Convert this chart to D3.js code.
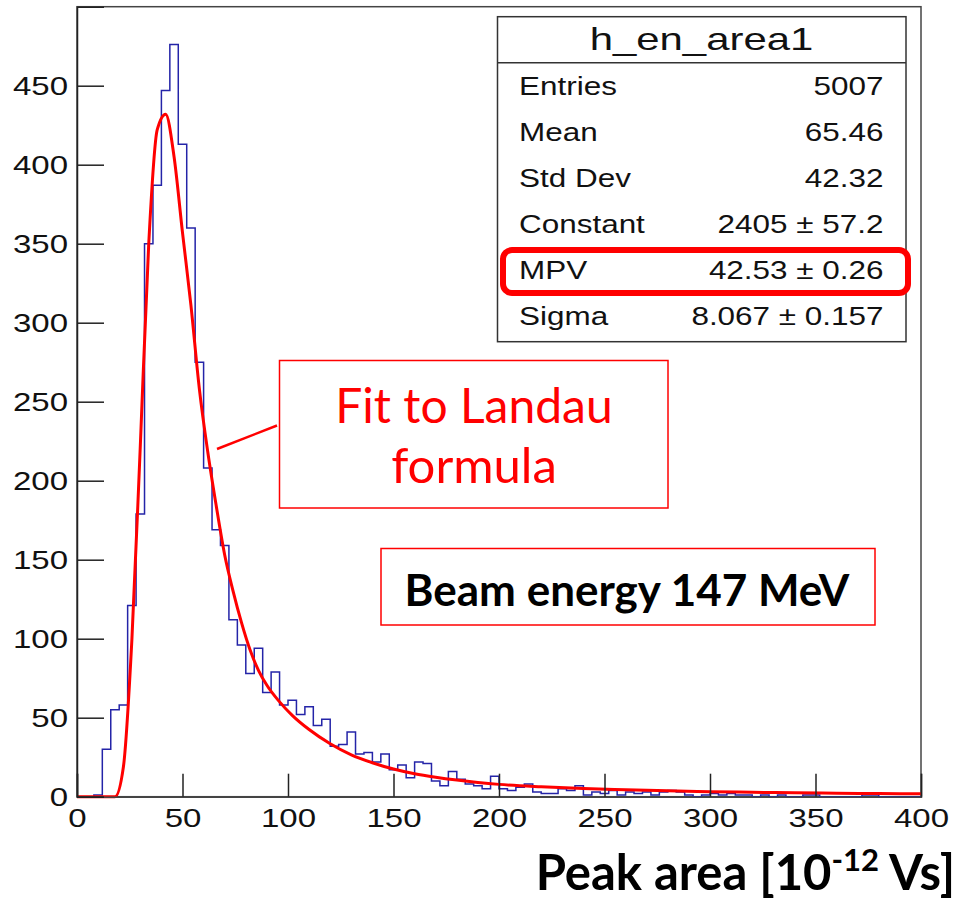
<!DOCTYPE html>
<html>
<head>
<meta charset="utf-8">
<script src="https://cdn.jsdelivr.net/npm/d3@7"></script>
<style>
  body { margin: 0; background: #fff; }
  svg { display: block; }
</style>
</head>
<body>
<svg id="chart" width="960" height="900"></svg>
<script>
// Histogram h_en_area1: 100 bins of width 4 over [0, 400]
const binLow = d3.range(0, 400, 4);
const counts = [
  0, 0, 1, 30, 55, 58, 121, 179, 350, 387,
  447, 476, 413, 360, 275, 208, 169, 159, 112, 96,
  78, 94, 66, 79, 58, 61, 52, 57, 45, 49,
  32, 33, 41, 27, 28, 22, 27, 17, 20, 12,
  22, 21, 10, 7, 16, 11, 8, 7, 5, 13,
  5, 4, 6, 8, 3, 2, 2, 5, 4, 7,
  1, 3, 2, 4, 1, 3, 2, 3, 1, 3,
  4, 3, 1, 0, 1, 2, 1, 2, 1, 1,
  0, 1, 0, 1, 0, 0, 1, 1, 0, 0,
  0, 0, 0, 1, 1, 0, 0, 0, 0, 0
];

// Landau fit curve, sampled
const fitX = [0, 18, 22, 26, 30, 34, 38, 42, 46, 50, 54, 58, 62, 66, 70, 74, 78, 82, 86, 90,
  96, 102, 110, 120, 130, 140, 150, 160, 170, 180, 190, 200, 220, 240, 260, 280, 300, 320, 340, 360, 380, 400];
const fitY = [0, 0, 19, 99, 222, 350, 422, 432, 405, 357, 311, 258, 218, 184, 153, 130, 110, 93, 80, 70.5,
  60, 51.5, 42.5, 33.5, 26.5, 21.5, 17.5, 14.5, 12.3, 10.5, 9, 7.8, 6.3, 5.2, 4.4, 3.7, 3.2, 2.8, 2.5, 2.2, 2.0, 1.8];

const xMajor = d3.range(0, 401, 50);
const xMinor = d3.range(0, 401, 10);
const yMajor = d3.range(0, 451, 50);
const yMinor = d3.range(0, 500, 10);

const statsTitle = "h_en_area1";
const statsLabels = ["Entries", "Mean", "Std Dev", "Constant", "MPV", "Sigma"];
const statsValues = ["5007", "65.46", "42.32", "2405 \u00b1 57.2", "42.53 \u00b1 0.26", "8.067 \u00b1 0.157"];

const fitNote = ["Fit to Landau", "formula"];
const beamNote = "Beam energy 147 MeV";

const svg = d3.select("#chart");
const x = d3.scaleLinear().domain([0, 400]).range([77, 921]);
const y = d3.scaleLinear().domain([0, 500]).range([796.7, 6.7]);

const rootFont = "'Liberation Sans', Arial, Helvetica, sans-serif";
const noteFont = "Lato, 'Open Sans', sans-serif";
const sx = 1.27; // horizontal stretch of the axis labels

// Frame
svg.append("rect")
  .attr("x", x(0)).attr("y", y(500))
  .attr("width", x(400) - x(0)).attr("height", y(0) - y(500))
  .attr("fill", "none").attr("stroke", "#444").attr("stroke-width", 1.5);

// Histogram outline
const stepPts = binLow.map((b, i) => [b, counts[i]]);
stepPts.push([400, counts[counts.length - 1]]);
svg.append("path")
  .attr("d", d3.line().x(d => x(d[0])).y(d => y(d[1])).curve(d3.curveStepAfter)(stepPts))
  .attr("fill", "none").attr("stroke", "#2424a8").attr("stroke-width", 1.5);

// Fit curve
svg.append("path")
  .attr("d", d3.line().x((d, i) => x(fitX[i])).y((d, i) => y(fitY[i])).curve(d3.curveMonotoneX)(fitX))
  .attr("fill", "none").attr("stroke", "#ff0000").attr("stroke-width", 3)
  .attr("stroke-linejoin", "round");

// Axes (ticks point into the frame)
const gx = svg.append("g").attr("transform", `translate(0,${y(0)})`);
gx.call(d3.axisBottom(x).tickValues(xMinor).tickSize(-12).tickFormat(""));
gx.call(d3.axisBottom(x).tickValues(xMajor).tickSize(-23).tickPadding(12).tickFormat(d3.format("d")));
gx.selectAll(".domain").attr("stroke", "#444").attr("stroke-width", 1.5);
gx.selectAll(".tick line").attr("stroke", "#222").attr("stroke-width", 1.5);
gx.selectAll("text").attr("font-family", rootFont).attr("font-size", 26).attr("fill", "#111")
  .attr("transform", `scale(${sx},1)`);

const gy = svg.append("g").attr("transform", `translate(${x(0)},0)`);
gy.call(d3.axisLeft(y).tickValues(yMinor).tickSize(-14).tickFormat(""));
gy.call(d3.axisLeft(y).tickValues(yMajor).tickSize(-27).tickPadding(9).tickFormat(d3.format("d")));
gy.selectAll(".domain").attr("stroke", "#222").attr("stroke-width", 1.5);
gy.selectAll(".tick line").attr("stroke", "#222").attr("stroke-width", 1.5);
gy.selectAll("text").attr("font-family", rootFont).attr("font-size", 26).attr("fill", "#111")
  .attr("x", -9 / sx).attr("transform", `scale(${sx},1)`);

// Statistics box
const box = { left: 497.5, right: 906, top: 16.7, bottom: 341.7, sep: 62.7 };
svg.append("rect")
  .attr("x", box.left).attr("y", box.top)
  .attr("width", box.right - box.left).attr("height", box.bottom - box.top)
  .attr("fill", "#fff").attr("stroke", "#333").attr("stroke-width", 1.5);
svg.append("line")
  .attr("x1", box.left).attr("x2", box.right).attr("y1", box.sep).attr("y2", box.sep)
  .attr("stroke", "#333").attr("stroke-width", 1.5);

function stretched(parent, tx, ty, text, anchor, size, k) {
  return parent.append("g").attr("transform", `translate(${tx},${ty}) scale(${k},1)`)
    .append("text").attr("text-anchor", anchor)
    .attr("font-family", rootFont).attr("font-size", size).attr("fill", "#111")
    .text(text);
}
stretched(svg, 701.5, 50, statsTitle, "middle", 32, 1.31);
statsLabels.forEach((lab, i) => {
  const by = 95 + i * 46;
  stretched(svg, 519, by, lab, "start", 26, 1.21);
  stretched(svg, 883.5, by, statsValues[i], "end", 26, 1.21);
});

// Highlight around the MPV row
svg.append("rect")
  .attr("x", 503).attr("y", 250).attr("width", 405).attr("height", 43)
  .attr("rx", 9).attr("ry", 9)
  .attr("fill", "none").attr("stroke", "#ff0000").attr("stroke-width", 6);

// Fit annotation
svg.append("line")
  .attr("x1", 217).attr("y1", 449).attr("x2", 277).attr("y2", 425.5)
  .attr("stroke", "#ff0000").attr("stroke-width", 2.5);
svg.append("rect")
  .attr("x", 279.5).attr("y", 360.5).attr("width", 388.5).attr("height", 147.5)
  .attr("fill", "#fff").attr("stroke", "#ff0000").attr("stroke-width", 1.5);
svg.append("text").attr("x", 474).attr("y", 423).attr("text-anchor", "middle")
  .attr("font-family", noteFont).attr("font-size", 48).attr("fill", "#ff0000").text(fitNote[0]);
svg.append("text").attr("x", 474).attr("y", 483).attr("text-anchor", "middle")
  .attr("font-family", noteFont).attr("font-size", 49).attr("fill", "#ff0000").text(fitNote[1]);

// Beam energy annotation
svg.append("rect")
  .attr("x", 381).attr("y", 548.5).attr("width", 494).attr("height", 76.5)
  .attr("fill", "#fff").attr("stroke", "#ff0000").attr("stroke-width", 1.5);
svg.append("text").attr("x", 627).attr("y", 606).attr("text-anchor", "middle")
  .attr("font-family", noteFont).attr("font-weight", "bold").attr("font-size", 44).attr("fill", "#000")
  .text(beamNote);

// X axis title
const xt = svg.append("text").attr("x", 955).attr("y", 890).attr("text-anchor", "end")
  .attr("font-family", noteFont).attr("font-weight", "bold").attr("font-size", 49).attr("fill", "#000");
xt.append("tspan").text("Peak area [10");
xt.append("tspan").attr("dy", -19).attr("font-size", 31).text("-12");
xt.append("tspan").attr("dy", 19).text(" Vs]");
</script>
</body>
</html>
